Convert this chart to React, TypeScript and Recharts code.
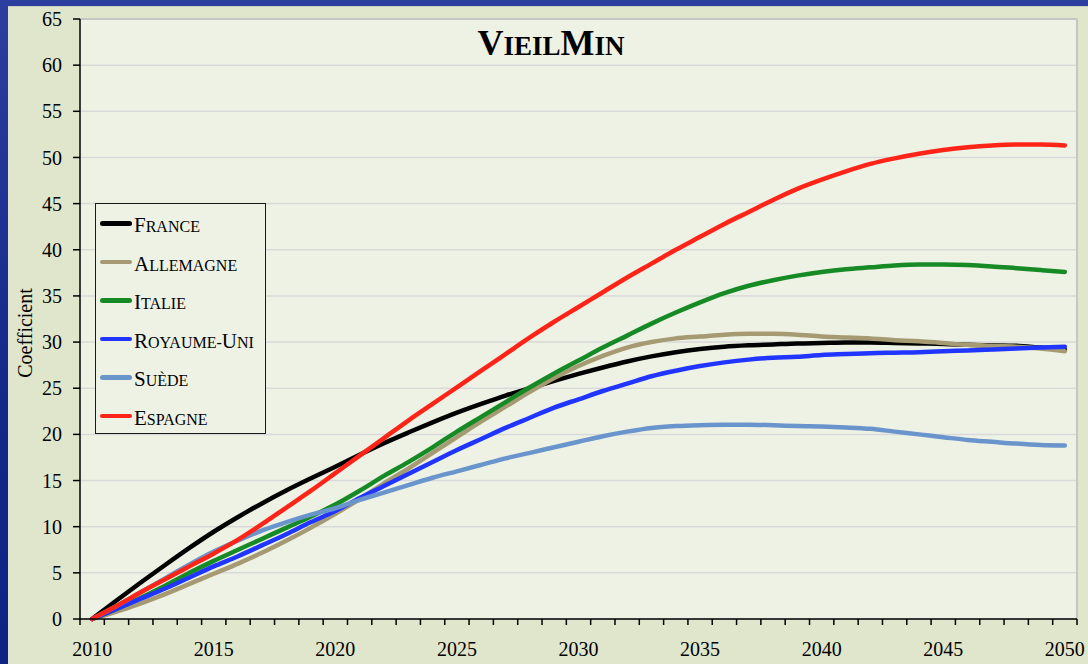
import React from "react";
import {
  LineChart,
  Line,
  XAxis,
  YAxis,
  CartesianGrid,
  Legend,
  ReferenceLine,
} from "recharts";

const years = [
  2010, 2011, 2012, 2013, 2014, 2015, 2016, 2017, 2018, 2019, 2020, 2021, 2022, 2023,
  2024, 2025, 2026, 2027, 2028, 2029, 2030, 2031, 2032, 2033, 2034, 2035, 2036, 2037,
  2038, 2039, 2040, 2041, 2042, 2043, 2044, 2045, 2046, 2047, 2048, 2049, 2050,
];

const france = [
  0, 2.0, 3.95, 5.85, 7.7, 9.45, 11.05, 12.55, 13.95, 15.25, 16.5, 17.8, 19.05, 20.2,
  21.3, 22.35, 23.3, 24.2, 25.0, 25.8, 26.55, 27.25, 27.9, 28.45, 28.9, 29.25, 29.5,
  29.65, 29.75, 29.85, 29.9, 29.95, 29.95, 29.9, 29.85, 29.8, 29.7, 29.65, 29.6, 29.4,
  29.2,
];
const allemagne = [
  0, 0.8, 1.7, 2.7, 3.8, 4.9, 6.0, 7.2, 8.5, 9.9, 11.4, 13.0, 14.7, 16.3, 18.0, 19.7,
  21.4, 23.0, 24.6, 26.1, 27.4, 28.5, 29.4, 30.0, 30.4, 30.6, 30.8, 30.9, 30.9, 30.8,
  30.6, 30.5, 30.4, 30.2, 30.1, 29.9, 29.7, 29.6, 29.5, 29.3, 29.0,
];
const italie = [
  0, 1.1, 2.3, 3.6, 5.0, 6.3, 7.5, 8.7, 9.9, 11.1, 12.4, 13.9, 15.5, 17.0, 18.6, 20.3,
  21.9, 23.5, 25.1, 26.6, 28.0, 29.4, 30.7, 32.0, 33.2, 34.3, 35.3, 36.1, 36.7, 37.2,
  37.6, 37.9, 38.1, 38.3, 38.4, 38.4, 38.35, 38.2, 38.0, 37.8, 37.6,
];
const royaumeUni = [
  0, 1.1, 2.2, 3.3, 4.5, 5.7, 6.8, 8.0, 9.2, 10.5, 11.7, 13.1, 14.4, 15.7, 17.0, 18.3,
  19.5, 20.7, 21.8, 22.9, 23.8, 24.7, 25.5, 26.3, 26.9, 27.4, 27.8, 28.1, 28.3, 28.4,
  28.6, 28.7, 28.8, 28.85, 28.9, 29.0, 29.1, 29.2, 29.3, 29.4, 29.5,
];
const suede = [
  0, 1.4, 2.9, 4.4, 5.9, 7.3, 8.5, 9.6, 10.5, 11.3, 12.0, 12.9, 13.7, 14.5, 15.3, 16.0,
  16.7, 17.4, 18.0, 18.6, 19.2, 19.8, 20.3, 20.7, 20.9, 21.0, 21.05, 21.05, 21.0, 20.9,
  20.85, 20.75, 20.6, 20.3, 20.0, 19.7, 19.4, 19.2, 19.0, 18.85, 18.8,
];
const espagne = [
  0, 1.4, 2.9, 4.3, 5.7, 7.1, 8.6, 10.3, 12.1, 13.9, 15.8, 17.7, 19.6, 21.5, 23.3, 25.1,
  26.9, 28.7, 30.5, 32.2, 33.8, 35.4, 37.0, 38.5, 40.0, 41.4, 42.8, 44.1, 45.4, 46.6,
  47.6, 48.5, 49.3, 49.9, 50.4, 50.8, 51.1, 51.3, 51.4, 51.4, 51.3,
];

const yTicks = [0, 5, 10, 15, 20, 25, 30, 35, 40, 45, 50, 55, 60, 65];
const labelYears = [2010, 2015, 2020, 2025, 2030, 2035, 2040, 2045, 2050];

const series = [
  { key: "france", name: "France", color: "#000000", values: france },
  { key: "allemagne", name: "Allemagne", color: "#a59a72", values: allemagne },
  { key: "italie", name: "Italie", color: "#168a24", values: italie },
  { key: "royaumeUni", name: "Royaume-Uni", color: "#2035ff", values: royaumeUni },
  { key: "suede", name: "Suède", color: "#6995cc", values: suede },
  { key: "espagne", name: "Espagne", color: "#ff2418", values: espagne },
];

const data = years.map((year, i) => {
  const row: Record<string, number> = { year };
  series.forEach((s) => (row[s.key] = s.values[i]));
  return row;
});

// tick marks sit between categories, like the Excel original
const tickEdges = [years[0] - 0.5, ...years.map((y) => y + 0.5)];

const W = 1080;
const H = 658;
const MARGIN = { top: 12, right: 11, left: 0, bottom: 0 };
const Y_WIDTH = 72;
const PLOT_W = W - MARGIN.left - MARGIN.right - Y_WIDTH;
const BAND = PLOT_W / years.length;

const FONT = '"Liberation Serif", "Times New Roman", serif';
const PLOT_BG = "#eef2e5";

function SmallCaps({ text, big, small }: { text: string; big: number; small: number }) {
  const groups: { t: string; size: number }[] = [];
  for (const ch of text) {
    const upper = ch !== ch.toLowerCase();
    const size = upper ? big : small;
    const c = upper ? ch : ch.toUpperCase();
    const last = groups[groups.length - 1];
    if (last && last.size === size) last.t += c;
    else groups.push({ t: c, size });
  }
  return (
    <>
      {groups.map((g, i) => (
        <span key={i} style={{ fontSize: g.size }}>
          {g.t}
        </span>
      ))}
    </>
  );
}

function XTick(props: any) {
  const { x, y, payload } = props;
  const year = payload.value + 0.5;
  if (!labelYears.includes(year)) return null;
  return (
    <text
      x={x + BAND / 2}
      y={y}
      dy="0.71em"
      textAnchor="middle"
      fill="#000"
      fontSize={20}
      fontFamily={FONT}
    >
      {year}
    </text>
  );
}

function renderLegend() {
  return (
    <div
      style={{
        width: 171,
        height: 231,
        boxSizing: "border-box",
        border: "1.5px solid #1a1a1a",
        background: PLOT_BG,
        fontFamily: FONT,
      }}
    >
      {series.map((s) => (
        <div
          key={s.key}
          style={{ height: 38.5, display: "flex", alignItems: "center", whiteSpace: "nowrap" }}
        >
          <div
            style={{
              marginLeft: 4,
              width: 32,
              height: 4.5,
              borderRadius: 2.5,
              background: s.color,
              flex: "none",
            }}
          />
          <span style={{ marginLeft: 2, lineHeight: "21px", position: "relative", top: 3, color: "#000" }}>
            <SmallCaps text={s.name} big={21} small={16} />
          </span>
        </div>
      ))}
    </div>
  );
}

export default function App() {
  return (
    <div
      style={{
        position: "absolute",
        left: 0,
        top: 0,
        width: 1088,
        height: 664,
        overflow: "hidden",
        background: "linear-gradient(180deg, #2c3f9e 0%, #14288a 60%, #0e2382 100%)",
      }}
    >
      <div
        style={{
          position: "absolute",
          left: 8,
          top: 6,
          width: W,
          height: H,
          background: "#dfe6cc",
          borderTop: "1px solid #c9d2c4",
          boxSizing: "border-box",
        }}
      >
        <LineChart width={W} height={H} data={data} margin={MARGIN}>
          <CartesianGrid horizontal vertical={false} stroke="#d9d9d9" strokeWidth={1.5} fill={PLOT_BG} />
          <XAxis
            dataKey="year"
            type="number"
            domain={[tickEdges[0], tickEdges[tickEdges.length - 1]]}
            ticks={tickEdges}
            interval={0}
            height={46}
            tickSize={6}
            tickMargin={17}
            axisLine={{ stroke: "#000", strokeWidth: 1.5 }}
            tickLine={{ stroke: "#000", strokeWidth: 1.5 }}
            tick={<XTick />}
          />
          <YAxis
            domain={[0, 65]}
            ticks={yTicks}
            interval={0}
            width={Y_WIDTH}
            tickSize={7}
            tickMargin={11}
            axisLine={{ stroke: "#000", strokeWidth: 1.5 }}
            tickLine={{ stroke: "#000", strokeWidth: 1.5 }}
            tick={{ fill: "#000", fontSize: 20, fontFamily: FONT }}
            label={(p: any) => {
              const vb = p.viewBox;
              const cx = vb.x + 24;
              const cy = vb.y + vb.height / 2 + 14;
              return (
                <text
                  x={cx}
                  y={cy}
                  transform={`rotate(-90, ${cx}, ${cy})`}
                  textAnchor="middle"
                  fill="#000"
                  fontSize={20}
                  fontFamily={FONT}
                >
                  Coefficient
                </text>
              );
            }}
          />
          <ReferenceLine y={65} stroke="#c6c6c6" strokeWidth={2} />
          <ReferenceLine x={tickEdges[tickEdges.length - 1]} stroke="#c6c6c6" strokeWidth={2} />
          {series.map((s) => (
            <Line
              key={s.key}
              type="monotone"
              dataKey={s.key}
              name={s.name}
              stroke={s.color}
              strokeWidth={4.5}
              strokeLinecap="round"
              dot={false}
              activeDot={false}
              isAnimationActive={false}
            />
          ))}
          <Legend
            layout="vertical"
            align="center"
            verticalAlign="middle"
            content={renderLegend}
            wrapperStyle={{ left: 87, top: 196, width: 171, height: 231 }}
          />
        </LineChart>
        <div
          style={{
            position: "absolute",
            left: 3,
            top: 18,
            width: W,
            textAlign: "center",
            fontFamily: FONT,
            fontWeight: "bold",
            lineHeight: "36px",
            color: "#000",
            pointerEvents: "none",
          }}
        >
          <SmallCaps text="VieilMin" big={36} small={27} />
        </div>
      </div>
    </div>
  );
}
